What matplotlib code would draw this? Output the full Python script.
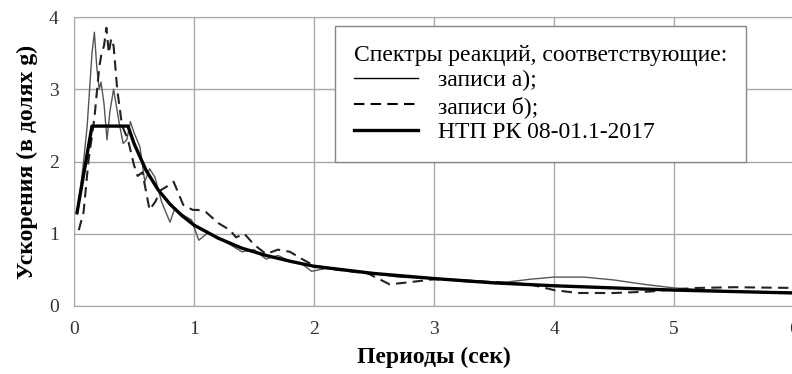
import numpy as np
import matplotlib.pyplot as plt

plt.rcParams['font.family'] = ['Liberation Serif', 'DejaVu Serif']

# Spectrum for record a) (thin solid)
t_a = [0.03, 0.08, 0.11, 0.15, 0.17, 0.19, 0.21, 0.225, 0.25, 0.275, 0.30, 0.33, 0.36, 0.38,
       0.41, 0.44, 0.47, 0.50, 0.55, 0.59, 0.63, 0.675, 0.73, 0.80, 0.84, 0.91, 0.98, 1.04,
       1.12, 1.2, 1.3, 1.4, 1.5, 1.6, 1.7, 1.8, 1.9, 1.98, 2.1, 2.3, 2.5, 2.7, 3.0, 3.3,
       3.6, 3.8, 4.0, 4.25, 4.5, 4.75, 5.0, 5.3, 5.6, 6.0]
sa_a = [1.3, 2.0, 2.5, 3.5, 3.79, 3.3, 3.0, 3.1, 2.8, 2.3, 2.7, 3.0, 2.7, 2.5,
        2.25, 2.3, 2.55, 2.4, 2.2, 1.72, 1.9, 1.78, 1.44, 1.16, 1.35, 1.26, 1.19, 0.91,
        1.02, 0.95, 0.85, 0.75, 0.78, 0.65, 0.7, 0.62, 0.58, 0.48, 0.52, 0.48, 0.45, 0.4, 0.38, 0.33,
        0.33, 0.37, 0.4, 0.4, 0.36, 0.3, 0.25, 0.22, 0.2, 0.19]

# Spectrum for record b) (dashed)
t_b = [0.04, 0.08, 0.12, 0.17, 0.21, 0.23, 0.25, 0.27, 0.29, 0.31, 0.33, 0.36, 0.40,
       0.45, 0.50, 0.53, 0.57, 0.61, 0.63, 0.68, 0.72, 0.77, 0.83, 0.87, 0.91, 0.99,
       1.03, 1.1, 1.2, 1.3, 1.35, 1.42, 1.5, 1.6, 1.7, 1.8, 1.9, 2.0, 2.2, 2.45,
       2.63, 2.8, 3.0, 3.2, 3.5, 3.8, 4.0, 4.2, 4.5, 4.8, 5.0, 5.2, 5.5, 6.0]
sa_b = [1.05, 1.3, 2.0, 2.6, 3.3, 3.5, 3.6, 3.85, 3.5, 3.7, 3.6, 3.0, 2.5,
        2.3, 1.95, 1.8, 1.85, 1.5, 1.33, 1.45, 1.6, 1.65, 1.72, 1.56, 1.4, 1.33,
        1.33, 1.3, 1.15, 1.05, 0.95, 1.0, 0.85, 0.72, 0.78, 0.75, 0.65, 0.56, 0.5, 0.45,
        0.3, 0.33, 0.37, 0.36, 0.33, 0.3, 0.22, 0.18, 0.18, 0.2, 0.23, 0.25, 0.26, 0.25]

# Code spectrum НТП РК 08-01.1-2017 (thick)
t_c = [0.025, 0.15, 0.45, 0.5, 0.6, 0.7, 0.8, 0.9, 1.0, 1.2, 1.4, 1.6, 1.8, 2.0, 2.5,
       3.0, 3.5, 4.0, 4.5, 5.0, 5.5, 6.0]
sa_c = [1.29, 2.49, 2.49, 2.25, 1.88, 1.61, 1.41, 1.25, 1.12, 0.94, 0.8, 0.7, 0.62, 0.55,
        0.45, 0.38, 0.32, 0.28, 0.25, 0.22, 0.2, 0.18]

xticks = [0, 1, 2, 3, 4, 5, 6]
yticks = [0, 1, 2, 3, 4]

fig = plt.figure(figsize=(7.92, 3.74), dpi=100)
# the plot runs slightly past the right edge of the figure, as in the original
ax = fig.add_axes([74 / 792, 68 / 374, 720 / 792, 289 / 374])

ax.plot(t_a, sa_a, color='#555555', lw=1.0, label='записи а);')
ax.plot(t_b, sa_b, color='#222222', lw=1.5, ls=(0, (5, 3)), label='записи б);')
ax.plot(t_c, sa_c, color='black', lw=2.4, label='НТП РК 08-01.1-2017')

ax.set_xlim(0, 6)
ax.set_ylim(0, 4)
ax.set_xticks(xticks)
ax.set_yticks(yticks)
ax.tick_params(length=0, labelsize=14, pad=11, colors='#333333')
ax.grid(True, color='#a8a8a8', lw=1.0)
for s in ax.spines.values():
    s.set_color('#a8a8a8')

ax.set_xlabel('Периоды (сек)', fontsize=17, fontweight='bold', labelpad=6)
ax.set_ylabel('Ускорения (в долях g)', fontsize=17, fontweight='bold', labelpad=8)

leg = ax.legend(title='Спектры реакций, соответствующие:', loc='upper right',
                bbox_to_anchor=(0.934, 0.97), fontsize=17, title_fontsize=17,
                frameon=True, fancybox=False, edgecolor='#888888', framealpha=1,
                handlelength=2.7, handletextpad=0.85, labelspacing=0.18,
                alignment='left', borderpad=0.8, borderaxespad=0)
leg.get_frame().set_linewidth(1.0)
for h in leg.get_lines():
    h.set_color('black')

fig.savefig('out.png', dpi=100)
